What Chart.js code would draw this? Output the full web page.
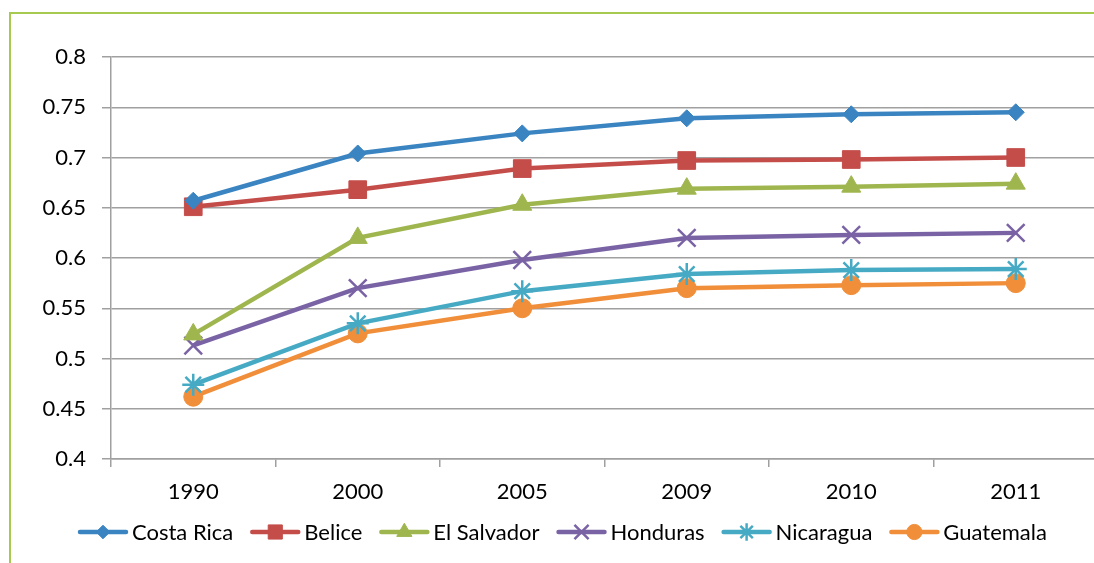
<!DOCTYPE html>
<html>
<head>
<meta charset="utf-8">
<script src="https://cdn.jsdelivr.net/npm/chart.js@4.4.1/dist/chart.umd.min.js"></script>
<style>
  html, body { margin: 0; padding: 0; background: #fff; overflow: hidden; width: 1094px; height: 563px; }
  #frame { position: absolute; left: 9px; top: 12px; width: 1200px; height: 700px;
           border-left: 2px solid #a6c94f; border-top: 2px solid #a6c94f; }
  #wrap { position: absolute; left: 0; top: 0; width: 1120px; height: 563px; }
</style>
</head>
<body>
<div id="frame"></div>
<div id="wrap"><canvas id="c"></canvas></div>
<script>
// Years on the horizontal axis
const years = ['1990', '2000', '2005', '2009', '2010', '2011'];

// Index values per country
const costaRica   = [0.657, 0.704, 0.724, 0.739, 0.743, 0.745];
const belice      = [0.651, 0.668, 0.689, 0.697, 0.698, 0.700];
const elSalvador  = [0.524, 0.620, 0.653, 0.669, 0.671, 0.674];
const honduras    = [0.513, 0.570, 0.598, 0.620, 0.623, 0.625];
const nicaragua   = [0.474, 0.535, 0.567, 0.584, 0.588, 0.589];
const guatemala   = [0.462, 0.525, 0.550, 0.570, 0.573, 0.575];

// Vertical axis tick values
const yTicks = [0.4, 0.45, 0.5, 0.55, 0.6, 0.65, 0.7, 0.75, 0.8];

const FONT = { family: 'Lato, "Open Sans", sans-serif', size: 22 };
const GRID = '#a0a0a0';

function series(label, data, color, style, radius, pointBorder) {
  return {
    label, data,
    borderColor: color, backgroundColor: color,
    pointBackgroundColor: color, pointBorderColor: color,
    borderWidth: 4.5, tension: 0,
    pointStyle: style, pointRadius: radius, pointHoverRadius: radius,
    pointBorderWidth: pointBorder
  };
}

const datasets = [
  series('Costa Rica',  costaRica,  '#3a84c1', 'rectRot',  8.5, 1),
  series('Belice',      belice,     '#c44d4a', 'rect',     12.5, 1),
  series('El Salvador', elSalvador, '#9fb64f', 'triangle', 11, 1),
  series('Honduras',    honduras,   '#7a63a5', 'crossRot', 12.5, 2.5),
  series('Nicaragua',   nicaragua,  '#46aac4', 'star',     11, 2.5),
  series('Guatemala',   guatemala,  '#f08e3a', 'circle',   9.5, 1)
];

// Legend drawn as a line with the series marker in its middle
const lineLegend = {
  id: 'lineLegend',
  afterDraw(chart) {
    const ctx = chart.ctx;
    const cy = 532;
    const lineLen = 50, textGap = 4, itemGap = 17;
    let x = 78;
    ctx.save();
    ctx.font = FONT.size + 'px ' + FONT.family;
    ctx.textBaseline = 'middle';
    ctx.textAlign = 'left';
    chart.data.datasets.forEach(ds => {
      ctx.strokeStyle = ds.borderColor;
      ctx.fillStyle = ds.borderColor;
      ctx.lineWidth = 4.5;
      ctx.lineCap = 'round';
      ctx.beginPath();
      ctx.moveTo(x + 2, cy);
      ctx.lineTo(x + lineLen - 2, cy);
      ctx.stroke();
      ctx.lineCap = 'butt';
      ctx.lineWidth = ds.pointBorderWidth;
      Chart.helpers.drawPoint(ctx, {
        pointStyle: ds.pointStyle,
        radius: ds.pointRadius * 0.8,
        rotation: 0,
        borderWidth: ds.pointBorderWidth
      }, x + lineLen / 2, cy);
      ctx.fillStyle = '#000';
      ctx.fillText(ds.label, x + lineLen + textGap, cy + 1);
      x += lineLen + textGap + ctx.measureText(ds.label).width + itemGap;
    });
    ctx.restore();
  }
};

new Chart(document.getElementById('c'), {
  type: 'line',
  data: { labels: years, datasets },
  options: {
    responsive: true,
    maintainAspectRatio: false,
    animation: false,
    events: [],
    layout: { padding: { left: 11, top: 57, right: 22, bottom: 54 } },
    plugins: { legend: { display: false }, tooltip: { enabled: false } },
    scales: {
      x: {
        type: 'category',
        offset: true,
        grid: { offset: true, drawOnChartArea: false, drawTicks: true, tickLength: 8, color: GRID, lineWidth: 1.5 },
        border: { display: true, color: GRID, width: 1.5 },
        ticks: { color: '#000', font: FONT, padding: 12, maxRotation: 0 },
        afterFit: s => { s.height = 50; }
      },
      y: {
        min: 0.4, max: 0.8,
        afterBuildTicks: s => { s.ticks = yTicks.map(v => ({ value: v })); },
        grid: { color: GRID, lineWidth: 1.5, tickLength: 9, drawTicks: true },
        border: { display: true, color: GRID, width: 1.5 },
        ticks: { color: '#000', font: FONT, padding: 16, callback: v => String(v) },
        afterFit: s => { s.width = 100; }
      }
    }
  },
  plugins: [lineLegend]
});
</script>
</body>
</html>
